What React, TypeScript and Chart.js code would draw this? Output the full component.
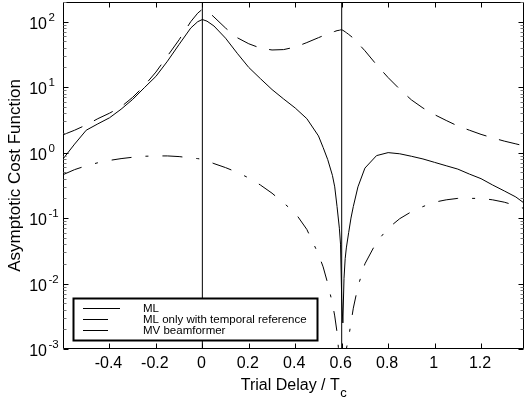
import React, { useEffect, useRef } from 'react';
import { Chart, registerables } from 'chart.js';

Chart.register(...registerables);

// ---- Data ----
const delays = [
  -0.6, -0.55, -0.5, -0.45, -0.4, -0.35, -0.3, -0.25, -0.2, -0.15, -0.1, -0.05, -0.02, 0, 0.02, 0.05,
  0.1, 0.15, 0.2, 0.25, 0.3, 0.35, 0.4, 0.45, 0.5, 0.52, 0.54, 0.56, 0.57, 0.58, 0.59, 0.595, 0.6,
  0.605, 0.61, 0.615, 0.62, 0.63, 0.64, 0.65, 0.67, 0.7, 0.75, 0.8, 0.85, 0.9, 0.95, 1.0, 1.05, 1.1,
  1.15, 1.2, 1.25, 1.3, 1.35, 1.385,
];

const mlValues = [
  0.8, 1.35, 2.2, 2.75, 3.4, 4.6, 6.5, 9.8, 14.6, 25, 45, 80, 100, 108, 102, 86,
  56, 33, 20, 13.5, 9.2, 6.6, 4.8, 3.3, 1.8, 1.2, 0.78, 0.45, 0.3, 0.15, 0.07, 0.04, 0.006,
  0.0025, 0.012, 0.024, 0.035, 0.06, 0.1, 0.15, 0.3, 0.58, 0.9, 1.0, 0.96, 0.88, 0.8, 0.71, 0.63, 0.56,
  0.47, 0.4, 0.32, 0.26, 0.21, 0.17,
];

const mlTemporalValues = [
  1.87, 2.2, 2.65, 3.3, 4.0, 5.0, 7.0, 10.5, 17, 30, 53, 100, 135, 155, 148, 118,
  80, 57, 46, 39.5, 37, 37.5, 41, 48, 57, 61, 65, 69, 71, 73, 74, 75, 75,
  74, 72, 70, 68, 64, 60, 56, 47, 36, 22, 14, 9.3, 6.4, 4.8, 3.8, 3.1, 2.55,
  2.2, 1.9, 1.68, 1.5, 1.36, 1.27,
];

const mvValues = [
  0.46, 0.55, 0.63, 0.7, 0.76, 0.81, 0.85, 0.88, 0.89, 0.89, 0.87, 0.83, 0.81, 0.79, 0.75, 0.68,
  0.59, 0.5, 0.41, 0.32, 0.24, 0.17, 0.12, 0.067, 0.028, 0.018, 0.01, 0.005, 0.0032, 0.0018, 0.0007, 0.0003, 0.0001,
  0.0002, 0.0004, 0.0007, 0.001, 0.0015, 0.0025, 0.0042, 0.009, 0.02, 0.043, 0.07, 0.098, 0.125, 0.15, 0.175, 0.19, 0.2,
  0.2, 0.2, 0.19, 0.175, 0.155, 0.14,
];

const markerDelays = [0, 0.6];
const xTickValues = [-0.4, -0.2, 0, 0.2, 0.4, 0.6, 0.8, 1, 1.2];
const xTickLabels = ['-0.4', '-0.2', '0', '0.2', '0.4', '0.6', '0.8', '1', '1.2'];
const yExponents = [-3, -2, -1, 0, 1, 2];
const seriesLabels = ['ML', 'ML only with temporal reference', 'MV beamformer'];
const yTitle = 'Asymptotic Cost Function';
const xTitleMain = 'Trial Delay / T';
const xTitleSub = 'c';
const xMin = -0.6;
const xMax = 1.385;
const yMin = 1e-3;
const yMax = 200;

const FONT = '"Liberation Sans", Arial, Helvetica, sans-serif';
const dashedPattern = [21, 13];
const dashDotPattern = [20, 14, 3, 14];

const decorPlugin = {
  id: 'decor',
  afterDraw(chart: any) {
    const { ctx, chartArea: a, scales } = chart;
    const xs = scales.x;
    const ys = scales.y;
    ctx.save();

    // Legend box
    const bx = a.left + 10.5;
    const by = 298.5;
    const bw = 244;
    const bh = 42;
    ctx.fillStyle = '#fff';
    ctx.fillRect(bx, by, bw, bh);
    ctx.strokeStyle = '#000';
    ctx.lineWidth = 2;
    ctx.setLineDash([]);
    ctx.strokeRect(bx, by, bw, bh);
    const rowsY = [308.5, 319.5, 330.5];
    const lineEnds = [120, 108, 108];
    ctx.lineWidth = 1;
    ctx.font = `11.5px ${FONT}`;
    ctx.fillStyle = '#000';
    ctx.textAlign = 'left';
    ctx.textBaseline = 'middle';
    seriesLabels.forEach((lab, i) => {
      ctx.beginPath();
      ctx.moveTo(83, rowsY[i]);
      ctx.lineTo(lineEnds[i], rowsY[i]);
      ctx.stroke();
      ctx.fillText(lab, 143, rowsY[i]);
    });

    // Frame
    const L = Math.round(a.left) + 0.5;
    const R = Math.round(a.right) - 0.5;
    const T = Math.round(a.top) + 0.5;
    const B = Math.round(a.bottom) - 0.5;
    ctx.strokeStyle = '#000';
    ctx.lineWidth = 1;
    ctx.beginPath();
    ctx.moveTo(L, T);
    ctx.lineTo(R, T);
    ctx.lineTo(R, B);
    ctx.lineTo(L, B);
    ctx.closePath();
    ctx.stroke();

    // X ticks (inward, top and bottom)
    ctx.beginPath();
    xTickValues.forEach((v) => {
      const px = Math.round(xs.getPixelForValue(v)) + 0.5;
      ctx.moveTo(px, B);
      ctx.lineTo(px, B - 5);
      ctx.moveTo(px, T);
      ctx.lineTo(px, T + 5);
    });
    ctx.stroke();

    // Y ticks major + minor
    ctx.beginPath();
    yExponents.forEach((e) => {
      const py = Math.round(ys.getPixelForValue(Math.pow(10, e))) + 0.5;
      ctx.moveTo(L, py);
      ctx.lineTo(L + 5, py);
      ctx.moveTo(R, py);
      ctx.lineTo(R - 5, py);
    });
    ctx.stroke();
    ctx.strokeStyle = '#777';
    ctx.beginPath();
    yExponents.forEach((e) => {
      for (let m = 2; m <= 9; m++) {
        const v = m * Math.pow(10, e);
        if (v > yMax) break;
        const py = Math.round(ys.getPixelForValue(v)) + 0.5;
        ctx.moveTo(L, py);
        ctx.lineTo(L + 3, py);
        ctx.moveTo(R, py);
        ctx.lineTo(R - 3, py);
      }
    });
    ctx.stroke();

    // X tick labels
    ctx.fillStyle = '#000';
    ctx.textBaseline = 'alphabetic';
    ctx.font = `16px ${FONT}`;
    ctx.textAlign = 'center';
    xTickValues.forEach((v, i) => {
      const px = xs.getPixelForValue(v);
      ctx.fillText(xTickLabels[i], px - 1, 367.5);
    });

    // Y tick labels: 10 with superscript exponent
    yExponents.forEach((e) => {
      const py = ys.getPixelForValue(Math.pow(10, e));
      ctx.font = `16px ${FONT}`;
      ctx.textAlign = 'right';
      ctx.fillText('10', 47, py + 7);
      ctx.font = `11.5px ${FONT}`;
      ctx.textAlign = 'left';
      ctx.fillText(String(e), 48.5, py - 1);
    });

    // X title with subscript
    ctx.font = `16px ${FONT}`;
    const w1 = ctx.measureText(xTitleMain).width;
    ctx.font = `13px ${FONT}`;
    const w2 = ctx.measureText(xTitleSub).width;
    const cx = (a.left + a.right) / 2;
    const sx = cx - (w1 + w2) / 2;
    ctx.textAlign = 'left';
    ctx.font = `16px ${FONT}`;
    ctx.fillText(xTitleMain, sx, 389.5);
    ctx.font = `13px ${FONT}`;
    ctx.fillText(xTitleSub, sx + w1 + 0.5, 397);

    ctx.restore();
  },
};

export default function App() {
  const ref = useRef<HTMLCanvasElement>(null);

  useEffect(() => {
    const canvas = ref.current;
    if (!canvas) return;
    const black = '#000';
    const toPoints = (vals: number[]) => delays.map((x, i) => ({ x, y: vals[i] }));
    const base = { borderColor: black, borderWidth: 1, pointRadius: 0, tension: 0, fill: false };

    const chart = new Chart(canvas, {
      type: 'line',
      data: {
        datasets: [
          ...markerDelays.map((d) => ({
            ...base,
            label: 'marker',
            data: [
              { x: d, y: yMin },
              { x: d, y: yMax },
            ],
          })),
          { ...base, label: seriesLabels[0], data: toPoints(mlValues) },
          { ...base, label: seriesLabels[1], data: toPoints(mlTemporalValues), borderDash: dashedPattern },
          { ...base, label: seriesLabels[2], data: toPoints(mvValues), borderDash: dashDotPattern },
        ],
      },
      options: {
        animation: false,
        responsive: true,
        maintainAspectRatio: false,
        events: [],
        layout: { padding: { top: 2, right: 1, left: 0, bottom: 0 } },
        plugins: {
          legend: { display: false },
          tooltip: { enabled: false },
          title: { display: false },
        },
        scales: {
          x: {
            type: 'linear',
            min: xMin,
            max: xMax,
            grid: { display: false, drawTicks: false },
            border: { display: false },
            afterBuildTicks: (scale: any) => {
              scale.ticks = xTickValues.map((v) => ({ value: v }));
            },
            afterFit: (scale: any) => {
              scale.height = 52;
            },
            ticks: { display: false },
          },
          y: {
            type: 'logarithmic',
            min: yMin,
            max: yMax,
            grid: { display: false, drawTicks: false },
            border: { display: false },
            ticks: { display: false },
            afterFit: (scale: any) => {
              scale.width = 63;
            },
            title: {
              display: true,
              text: yTitle,
              color: black,
              font: { family: FONT, size: 17 },
              padding: { top: 5, bottom: 0 },
            },
          },
        },
      },
      plugins: [decorPlugin],
    } as any);

    return () => chart.destroy();
  }, []);

  return (
    <div style={{ position: 'absolute', left: 0, top: 0, width: 525, height: 401, background: '#fff' }}>
      <canvas ref={ref} />
    </div>
  );
}
